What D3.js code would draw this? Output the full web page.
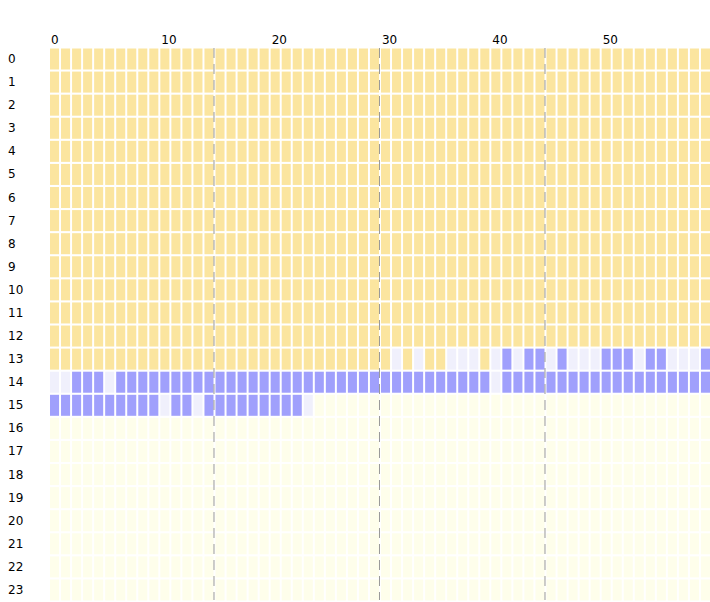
<!DOCTYPE html>
<html><head><meta charset="utf-8">
<script src="https://cdn.jsdelivr.net/npm/d3@7"></script>
<style>body{margin:0;background:#fff;font-family:"DejaVu Sans",sans-serif;}</style>
</head><body><svg id="chart" width="710" height="602"></svg>
<script>
// 0 = not yet, 1 = idle, 2 = active, 3 = done
var hours = d3.range(0, 24);
var minutes = d3.range(0, 60);
var xTicks = [0, 10, 20, 30, 40, 50];
var dividers = [15, 30, 45];
var row13 = [3,3,3,3,3,3,3,3,3,3,3,3,3,3,3,3,3,3,3,3,3,3,3,3,3,3,3,3,3,3,
             3,1,3,1,3,3,1,1,1,3,1,2,1,2,2,1,2,1,1,1,2,2,2,1,2,2,1,1,1,2];
var row14 = [1,1,2,2,2,1,2,2,2,2,2,2,2,2,2,2,2,2,2,2,2,2,2,2,2,2,2,2,2,2,
             2,2,2,2,2,2,2,2,2,2,1,2,2,2,2,2,2,2,2,2,2,2,2,2,2,2,2,2,2,2];
var row15 = [2,2,2,2,2,2,2,2,2,2,1,2,2,1,2,2,2,2,2,2,2,2,2,1,0,0,0,0,0,0,
             0,0,0,0,0,0,0,0,0,0,0,0,0,0,0,0,0,0,0,0,0,0,0,0,0,0,0,0,0,0];
var colors = ["#fefeeb", "#f0f0fc", "#a0a0fc", "#fbe59f"];

var rows = hours.map(function(h) {
  if (h < 13) return minutes.map(function() { return 3; });
  if (h == 13) return row13;
  if (h == 14) return row14;
  if (h == 15) return row15;
  return minutes.map(function() { return 0; });
});

var svg = d3.select('#chart');
var x = d3.scaleBand().domain(minutes).range([50, 710]).paddingInner(0.18).paddingOuter(0);
var y = d3.scaleBand().domain(hours).range([48.5, 600.5]).paddingInner(0.09).paddingOuter(0);

rows.forEach(function(r, h) {
  svg.append('g').selectAll('rect').data(r).enter().append('rect')
    .attr('x', function(d, m) { return x(m); })
    .attr('y', y(h))
    .attr('width', x.bandwidth())
    .attr('height', y.bandwidth())
    .attr('fill', function(d) { return colors[d]; });
});

svg.append('g').selectAll('line').data(dividers).enter().append('line')
  .attr('x1', function(d) { return x(d) - 1.5; })
  .attr('x2', function(d) { return x(d) - 1.5; })
  .attr('y1', 48).attr('y2', 600)
  .attr('stroke', '#999').attr('stroke-dasharray', '10,6');

svg.append('g').selectAll('text').data(xTicks).enter().append('text')
  .attr('x', function(d) { return x(d) + 1; })
  .attr('y', 44)
  .attr('font-size', 12).attr('fill', '#000')
  .text(function(d) { return d; });

svg.append('g').selectAll('text').data(hours).enter().append('text')
  .attr('x', 8)
  .attr('y', function(d) { return y(d) + y.bandwidth() / 2 + 4; })
  .attr('font-size', 12).attr('fill', '#000')
  .text(function(d) { return d; });
</script></body></html>
